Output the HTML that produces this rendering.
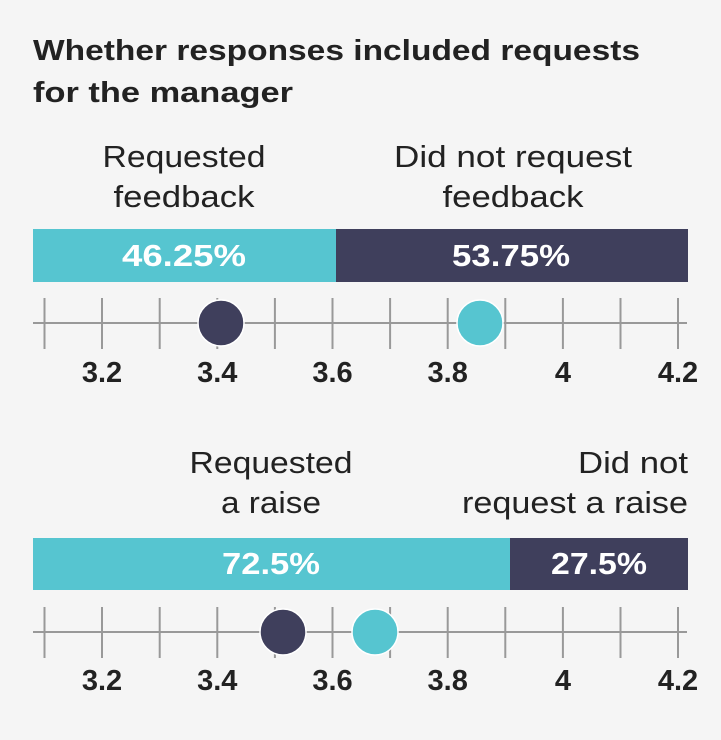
<!DOCTYPE html>
<html><head><meta charset="utf-8"><style>
html,body{margin:0;padding:0;background:#f5f5f5;}
svg{display:block;font-family:"Liberation Sans",sans-serif;}
</style></head><body>
<svg width="721" height="740" viewBox="0 0 721 740">
<rect width="721" height="740" fill="#f5f5f5"/>
<g font-weight="bold" font-size="29" fill="#222">
<text x="33" y="60" textLength="607" lengthAdjust="spacingAndGlyphs">Whether responses included requests</text>
<text x="33" y="102" textLength="260" lengthAdjust="spacingAndGlyphs">for the manager</text>
</g>
<g font-size="31" fill="#222" text-anchor="middle">
<text x="184" y="167" textLength="163" lengthAdjust="spacingAndGlyphs">Requested</text>
<text x="184" y="207" textLength="141" lengthAdjust="spacingAndGlyphs">feedback</text>
<text x="513" y="167" textLength="238" lengthAdjust="spacingAndGlyphs">Did not request</text>
<text x="513" y="207" textLength="141" lengthAdjust="spacingAndGlyphs">feedback</text>
<text x="271" y="473" textLength="163" lengthAdjust="spacingAndGlyphs">Requested</text>
<text x="271" y="513" textLength="100" lengthAdjust="spacingAndGlyphs">a raise</text>
<text x="688" y="473" text-anchor="end" textLength="110" lengthAdjust="spacingAndGlyphs">Did not</text>
<text x="688" y="513" text-anchor="end" textLength="226" lengthAdjust="spacingAndGlyphs">request a raise</text>
</g>
<rect x="33" y="229" width="303" height="53" fill="#56c5d0"/>
<rect x="336" y="229" width="352" height="53" fill="#3f3f5c"/>
<rect x="33" y="538" width="477" height="52" fill="#56c5d0"/>
<rect x="510" y="538" width="178" height="52" fill="#3f3f5c"/>
<g font-weight="bold" font-size="31" fill="#fff" text-anchor="middle">
<text x="184" y="266" textLength="124" lengthAdjust="spacingAndGlyphs">46.25%</text>
<text x="511" y="266" textLength="118" lengthAdjust="spacingAndGlyphs">53.75%</text>
<text x="271" y="574" textLength="98" lengthAdjust="spacingAndGlyphs">72.5%</text>
<text x="599" y="574" textLength="96" lengthAdjust="spacingAndGlyphs">27.5%</text>
</g>
<g stroke="#999" stroke-width="2">
<line x1="33" y1="323" x2="687" y2="323"/>
<line x1="33" y1="632" x2="687" y2="632"/>
<g id="t1">
<line x1="44.5" y1="298" x2="44.5" y2="349"/><line x1="102" y1="298" x2="102" y2="349"/><line x1="159.7" y1="298" x2="159.7" y2="349"/><line x1="217.3" y1="298" x2="217.3" y2="349"/><line x1="274.9" y1="298" x2="274.9" y2="349"/><line x1="332.5" y1="298" x2="332.5" y2="349"/><line x1="390.1" y1="298" x2="390.1" y2="349"/><line x1="447.7" y1="298" x2="447.7" y2="349"/><line x1="505.3" y1="298" x2="505.3" y2="349"/><line x1="562.9" y1="298" x2="562.9" y2="349"/><line x1="620.5" y1="298" x2="620.5" y2="349"/><line x1="678" y1="298" x2="678" y2="349"/>
</g>
<use href="#t1" y="309"/>
</g>
<circle cx="221" cy="323" r="23" fill="#3f3f5c" stroke="#fff" stroke-width="1.5"/>
<circle cx="480" cy="323" r="23" fill="#56c5d0" stroke="#fff" stroke-width="1.5"/>
<circle cx="283" cy="632" r="23" fill="#3f3f5c" stroke="#fff" stroke-width="1.5"/>
<circle cx="375" cy="632" r="23" fill="#56c5d0" stroke="#fff" stroke-width="1.5"/>
<g font-weight="bold" font-size="29" fill="#222" text-anchor="middle">
<text x="102" y="382">3.2</text><text x="217.3" y="382">3.4</text><text x="332.5" y="382">3.6</text><text x="447.7" y="382">3.8</text><text x="562.9" y="382">4</text><text x="678" y="382">4.2</text>
<text x="102" y="690">3.2</text><text x="217.3" y="690">3.4</text><text x="332.5" y="690">3.6</text><text x="447.7" y="690">3.8</text><text x="562.9" y="690">4</text><text x="678" y="690">4.2</text>
</g>
</svg>
</body></html>
